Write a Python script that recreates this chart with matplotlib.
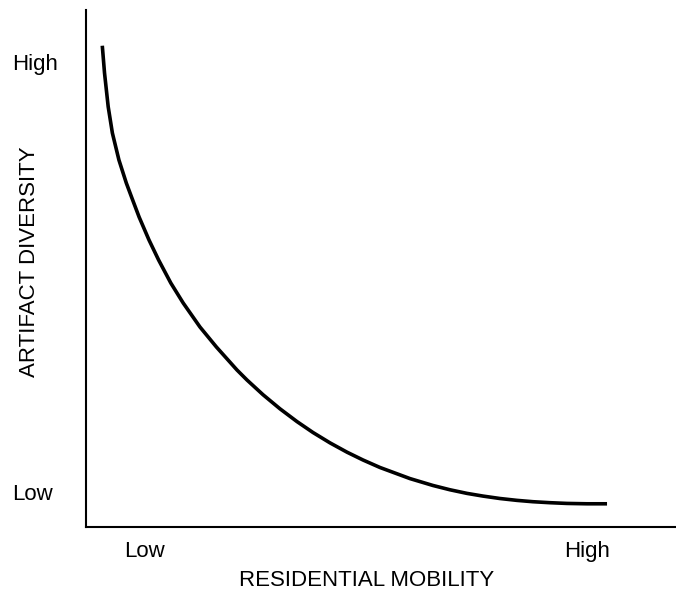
import matplotlib
matplotlib.use("Agg")
import matplotlib.pyplot as plt

plt.rcParams['font.family'] = ['Liberation Sans', 'DejaVu Sans']

# Curve values (0-100 relative scale on both axes)
mobility = [2.76, 3.14, 3.76, 4.47, 5.58, 6.83, 7.78, 9.00, 10.68, 12.31, 14.37,
            16.47, 19.32, 22.10, 25.59, 27.29, 30.00, 32.88, 35.76, 38.47, 41.36,
            44.24, 46.95, 49.83, 54.92, 58.81, 61.69, 64.58, 67.29, 70.17, 73.05,
            75.76, 78.64, 81.53, 84.92, 88.31]
diversity = [93.09, 87.81, 81.30, 76.21, 70.99, 66.54, 63.64, 59.96, 55.51, 51.64,
             47.20, 43.33, 38.68, 34.82, 30.37, 28.43, 25.59, 22.86, 20.39, 18.28,
             16.27, 14.47, 12.96, 11.51, 9.36, 8.03, 7.20, 6.50, 5.98, 5.51, 5.15,
             4.89, 4.70, 4.56, 4.49, 4.49]

x_tick_pos = [10.0, 84.9]
x_tick_labels = ["Low", "High"]
y_tick_pos = [6.77, 89.94]
y_tick_labels = ["Low", "High"]

FS = 16

fig = plt.figure(figsize=(6.76, 5.94), dpi=100)
ax = fig.add_axes([86/676, 67/594, 590/676, 517/594])
ax.plot(mobility, diversity, color='black', lw=2.6, solid_capstyle='butt',
        solid_joinstyle='round')
ax.set_xlim(0, 100)
ax.set_ylim(0, 100)
for s in ['top', 'right']:
    ax.spines[s].set_visible(False)
for s in ['left', 'bottom']:
    ax.spines[s].set_linewidth(1.5)

ax.set_xticks(x_tick_pos, x_tick_labels, fontsize=FS)
ax.set_yticks(y_tick_pos, y_tick_labels, fontsize=FS)
ax.tick_params(axis='x', length=0, pad=10)
ax.tick_params(axis='y', length=0, pad=53.3)
for lbl in ax.get_yticklabels():
    lbl.set_ha('left')

ax.set_xlabel("RESIDENTIAL MOBILITY", fontsize=FS, va='center')
ax.xaxis.set_label_coords(0.476, -0.104)
ax.set_ylabel("ARTIFACT DIVERSITY", fontsize=FS, va='center')
ax.yaxis.set_label_coords(-0.0966, 0.5135)

fig.savefig("out.png", dpi=100)
